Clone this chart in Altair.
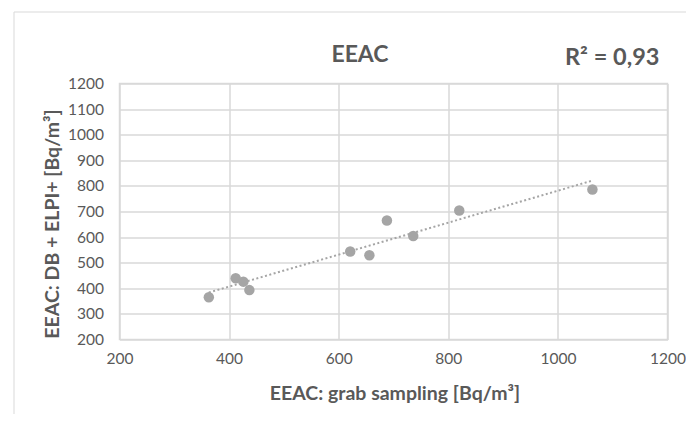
import altair as alt
import pandas as pd

grab = [363, 412, 426, 437, 621, 656, 688, 736, 820, 1063]
db_elpi = [365, 439, 426, 393, 544, 529, 665, 604, 704, 786]
x_ticks = [200, 400, 600, 800, 1000, 1200]
y_ticks = [200, 300, 400, 500, 600, 700, 800, 900, 1000, 1100, 1200]
title_text = "EEAC"
r2_text = "R² = 0,93"

df = pd.DataFrame({"x": grab, "y": db_elpi})

GRAY_TXT = "#595959"
GRID = "#d9d9d9"
PT = "#a5a5a5"
FONT = "Lato"

xs = alt.Scale(domain=[200, 1200], nice=False, zero=False)
ys = alt.Scale(domain=[200, 1200], nice=False, zero=False)

x_axis = alt.Axis(
    title="EEAC: grab sampling [Bq/m³]",
    values=x_ticks, format="d", labelOverlap=False, labelFlush=False,
    titleX=275, titleY=59.5, titleBaseline="alphabetic", titleFontSize=19.5,
)
y_axis = alt.Axis(
    title="EEAC: DB + ELPI+ [Bq/m³]",
    values=y_ticks, format="d", labelOverlap=False, labelFlush=False,
    titleX=-61, titleY=140, titleBaseline="alphabetic", titleAngle=270,
    titleFontSize=19.5,
)

base = alt.Chart(df)

points = base.mark_point(filled=True, size=110, color=PT, opacity=1).encode(
    x=alt.X("x:Q", scale=xs, axis=x_axis),
    y=alt.Y("y:Q", scale=ys, axis=y_axis),
)

trend = base.transform_regression("x", "y").mark_line(
    color=PT, strokeDash=[2, 2.5], strokeWidth=2
).encode(
    x=alt.X("x:Q", scale=xs, axis=x_axis),
    y=alt.Y("y:Q", scale=ys, axis=y_axis),
)

frame = alt.Chart(pd.DataFrame({"a": [0]})).mark_rect(
    fill=None, stroke=GRID, strokeWidth=1
).encode(
    x=alt.value(-105.5), x2=alt.value(620), y=alt.value(-71.5), y2=alt.value(400)
)

title = alt.Chart(pd.DataFrame({"t": [title_text]})).mark_text(
    font=FONT, fontSize=23, fontWeight="bold", color=GRAY_TXT,
    align="center", baseline="alphabetic"
).encode(text="t:N", x=alt.value(240.5), y=alt.value(-21.5))

r2 = alt.Chart(pd.DataFrame({"t": [r2_text]})).mark_text(
    font=FONT, fontSize=23.5, fontWeight="bold", color=GRAY_TXT,
    align="left", baseline="alphabetic"
).encode(text="t:N", x=alt.value(445.5), y=alt.value(-18.5))

chart = alt.layer(frame, trend, points, title, r2).properties(
    width=548, height=256,
    autosize=alt.AutoSizeParams(type="none"),
    padding={"left": 111.5, "top": 75.5, "right": 18.5, "bottom": 74.5},
).configure_view(
    stroke=GRID, strokeWidth=1.5
).configure_axis(
    grid=True, gridColor=GRID, gridWidth=1.5,
    domain=False, ticks=False,
    labelFont=FONT, labelFontSize=15.5, labelColor=GRAY_TXT,
    titleFont=FONT, titleFontWeight="bold", titleColor=GRAY_TXT,
).configure_axisX(
    labelPadding=12,
).configure_axisY(
    labelPadding=16,
)

chart.save("out.html", embed_options={"renderer": "svg", "actions": False})
